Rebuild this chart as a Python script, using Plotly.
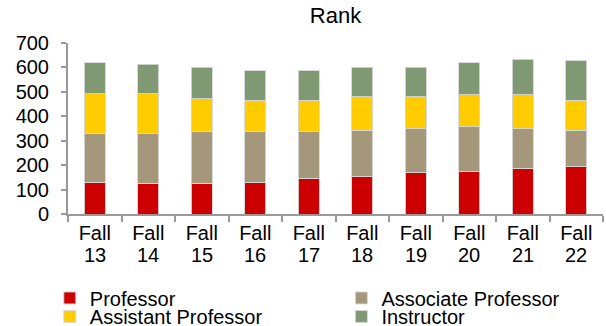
import plotly.graph_objects as go

years = ["13", "14", "15", "16", "17", "18", "19", "20", "21", "22"]
season = "Fall"
categories = [f"{season} {yr}" for yr in years]
professor = [131, 126, 126, 131, 147, 153, 169, 176, 188, 193]
associate = [197, 202, 210, 205, 189, 189, 181, 182, 162, 149]
assistant = [164, 164, 135, 129, 129, 139, 131, 130, 138, 123]
instructor = [128, 121, 130, 122, 122, 120, 120, 132, 146, 162]

# name, values, colour, legend slot (two columns x two rows)
series = [
    ("Professor", professor, "#CC0000", "legend"),
    ("Associate Professor", associate, "#A4977A", "legend2"),
    ("Assistant Professor", assistant, "#FFCC00", "legend3"),
    ("Instructor", instructor, "#7F9A72", "legend4"),
]

fig = go.Figure()
for name, vals, color, lg in series:
    fig.add_trace(go.Bar(
        x=categories, y=vals, name=name, legend=lg,
        marker=dict(color=color, line=dict(color="rgba(215,215,215,0.9)", width=1)),
    ))

font = "Liberation Sans, Arial, sans-serif"
legend_font = dict(family=font, size=20, color="black")


def legend_at(x, y):
    return dict(x=x, y=y, xanchor="left", yanchor="middle", itemwidth=30,
                font=legend_font, bgcolor="rgba(0,0,0,0)", borderwidth=0)


# year numbers on a second line under the "Fall" tick labels (category index positions)
annotations = [
    dict(x=i, y=-0.24, xref="x", yref="paper", text=yr, showarrow=False,
         xanchor="center", yanchor="middle", font=dict(family=font, size=20, color="black"))
    for i, yr in enumerate(years)
]

fig.update_layout(
    barmode="stack",
    bargap=0.61,
    width=606, height=326,
    margin=dict(l=68, r=3, t=43, b=112, autoexpand=False),
    paper_bgcolor="white", plot_bgcolor="white",
    font=dict(family=font, size=20, color="black"),
    title=dict(text="Rank", xref="paper", x=0.5, xanchor="center",
               yref="container", y=0.954, yanchor="middle",
               font=dict(family=font, size=22, color="black")),
    xaxis=dict(
        type="category", tickvals=categories, ticktext=[season] * len(categories),
        range=[-0.5, len(categories) - 0.5], tickangle=0,
        showline=True, linecolor="#999999", linewidth=2,
        ticks="outside", tickson="boundaries", tickcolor="#999999", ticklen=6, tickwidth=1.5,
        tickfont=dict(size=20), showgrid=False,
    ),
    yaxis=dict(
        range=[0, 700], dtick=100, showline=True, linecolor="#999999", linewidth=2,
        ticks="outside", tickcolor="#999999", ticklen=5, tickwidth=1.5,
        showgrid=False, zeroline=False, tickfont=dict(size=20), ticklabelstandoff=8,
    ),
    legend=legend_at(-0.034, -0.491),
    legend2=legend_at(0.511, -0.491),
    legend3=legend_at(-0.034, -0.599),
    legend4=legend_at(0.511, -0.599),
    annotations=annotations,
    showlegend=True,
)

fig.write_html("out.html")
